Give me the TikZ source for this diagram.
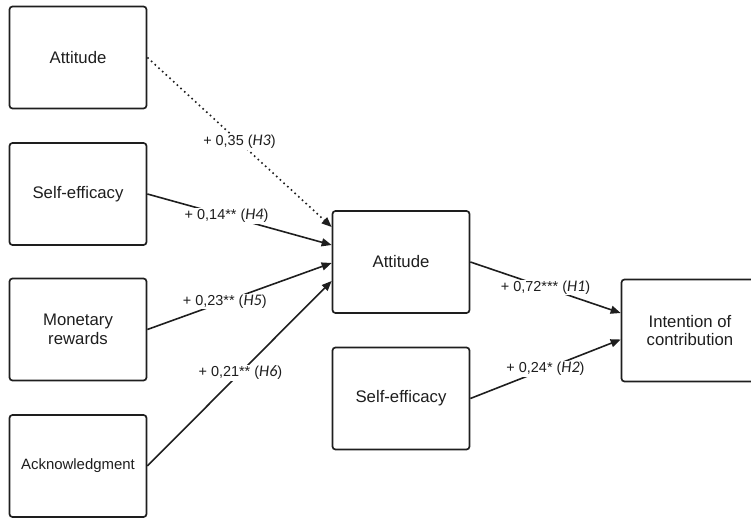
\documentclass[tikz,border=0pt]{standalone}
\usepackage{fontspec}
\setmainfont{Liberation Sans}
\newfontfamily\hfont[Scale=1.12]{Carlito}
\usetikzlibrary{arrows.meta}
\definecolor{ink}{HTML}{1E1E1E}
\tikzset{
  box/.style={draw=ink, line width=1.7bp, rounded corners=3bp, minimum width=137bp, minimum height=102bp,
    align=center, inner sep=2bp, font=\fontsize{16.8}{18.5}\selectfont, text=ink},
  link/.style={draw=ink, line width=1.6bp, -{Triangle[length=10bp,width=8bp]}},
  dotlink/.style={link, dash pattern=on 1.6bp off 3.4bp},
  lab/.style={fill=white, inner sep=1bp, font=\fontsize{14.5}{16}\selectfont, text=ink}
}
\newcommand{\hyp}[1]{(\textit{\hfont #1})}
\begin{document}
\begin{tikzpicture}[x=1bp, y=-1bp]
\useasboundingbox (0,0) rectangle (751,518);
\node[box] (att1) at (78,57.5) {Attitude};
\node[box] (self1) at (78,194) {Self-efficacy};
\node[box] (mon) at (78,329.5) {Monetary\\rewards};
\node[box, font=\fontsize{15}{17}\selectfont] (ack) at (78,466) {Acknowledgment};
\node[box] (att2) at (401,262) {Attitude};
\node[box] (self2) at (401,398.5) {Self-efficacy};
\node[box] (int) at (690,330.5) {Intention of\\contribution};

\draw[dotlink] (att1.east) -- ([yshift=35bp]att2.west) node[lab, pos=0.5] {+ 0,35 \hyp{H3}};
\draw[link] (self1.east) -- ([yshift=17bp]att2.west) node[lab, pos=0.43] {+ 0,14** \hyp{H4}};
\draw[link] (mon.east) -- ([yshift=-1bp]att2.west) node[lab, pos=0.42] {+ 0,23** \hyp{H5}};
\draw[link] (ack.east) -- ([yshift=-19bp]att2.west) node[lab, pos=0.505] {+ 0,21** \hyp{H6}};
\draw[link] (att2.east) -- ([yshift=17.5bp]int.west) node[lab, pos=0.5] {+ 0,72*** \hyp{H1}};
\draw[link] (self2.east) -- ([yshift=-9bp]int.west) node[lab, pos=0.5] {+ 0,24* \hyp{H2}};
\end{tikzpicture}
\end{document}
